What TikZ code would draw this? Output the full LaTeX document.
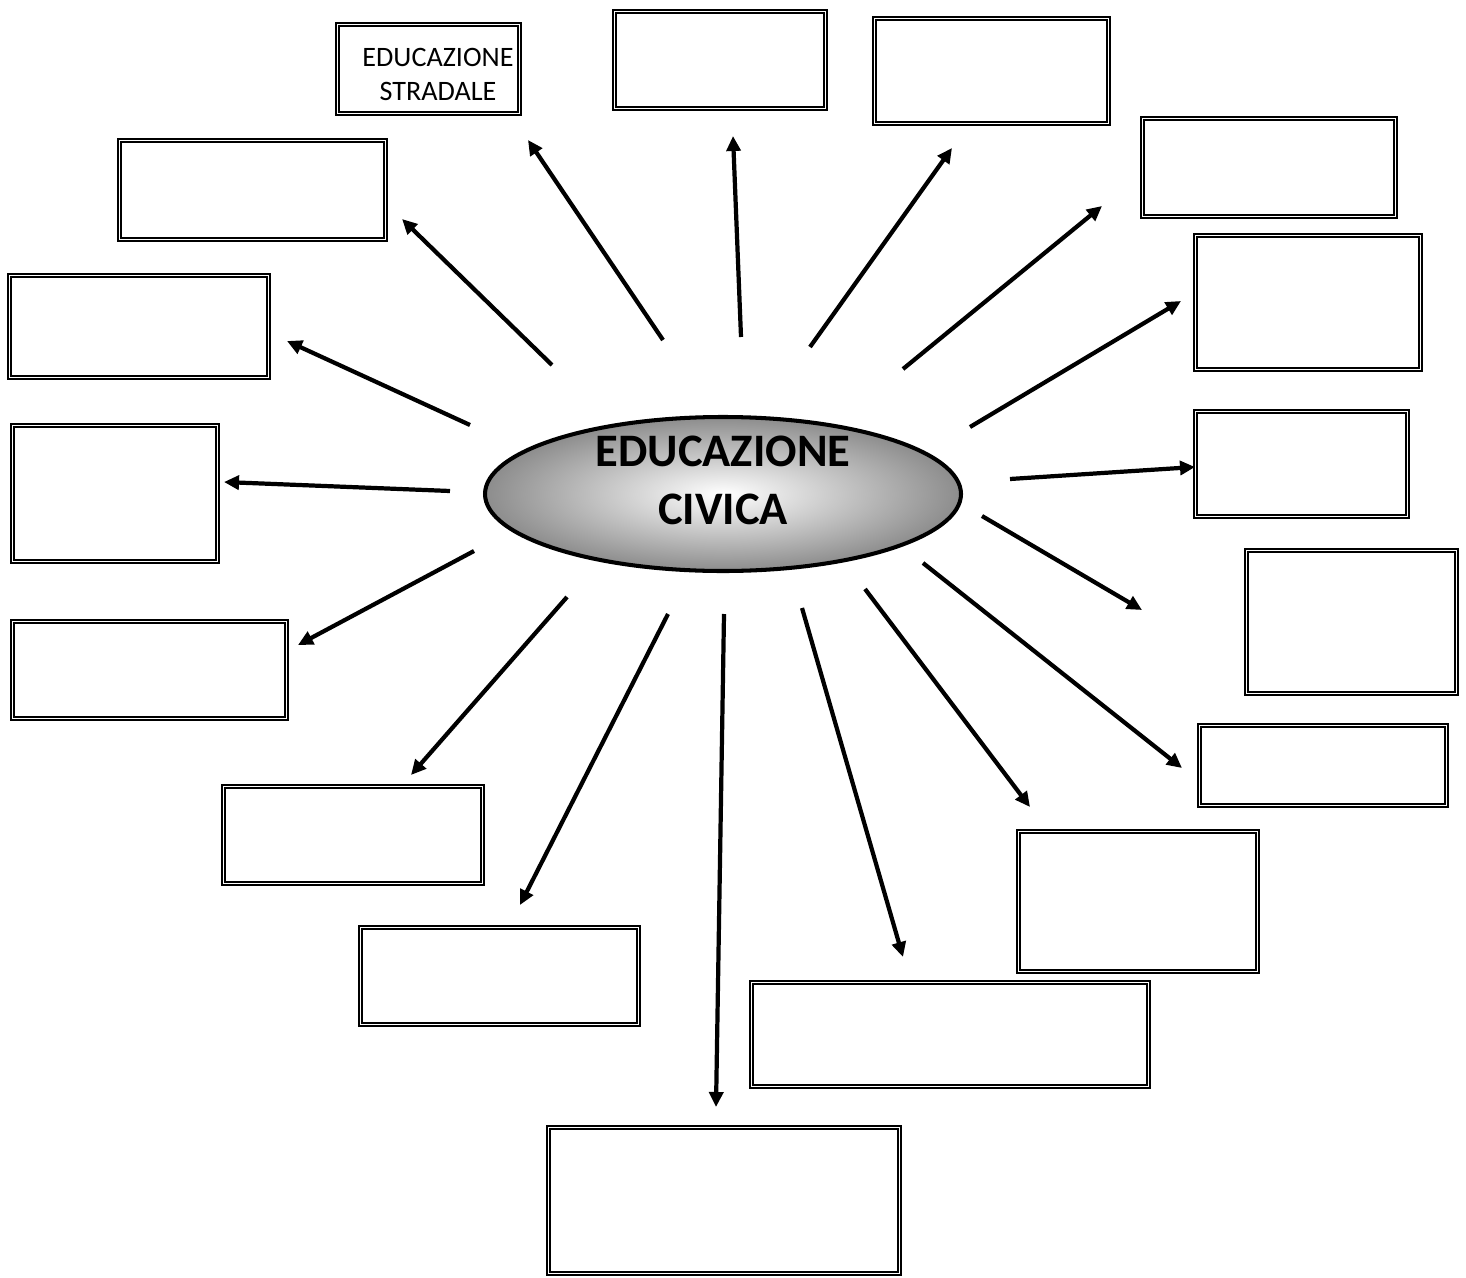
\documentclass[tikz,border=0pt]{standalone}
\usepackage{fontspec}
\setmainfont{Carlito}
\usetikzlibrary{shapes.geometric,arrows.meta}
\begin{document}
\begin{tikzpicture}[x=0.02cm,y=-0.02cm]
    \tikzset{
        box/.style 2 args={draw,double,line width=0.9pt,double distance=1.1pt,inner sep=0pt,
            minimum width={(#1-5)*0.02cm},minimum height={(#2-5)*0.02cm}},
        civica/.style={ellipse,draw,line width=2.3pt,shading=radial,inner color=white,outer color=black!45,
            minimum width=476*0.02cm,minimum height=154*0.02cm,inner xsep=0pt,inner ysep=-0.4cm,align=center,
            text depth=0.56cm,font=\fontsize{26.5}{33}\selectfont\bfseries},
        arr/.style={line width=2.4pt,-{Triangle[length=0.3cm,width=0.28cm]}},}
    \useasboundingbox (0,0) rectangle (1466,1277);
    \node[civica] (ec) at (723,494) {EDUCAZIONE\\CIVICA};
    \node[box={187}{94},align=center,text height=1.27cm,text depth=0cm,font=\fontsize{16}{19.5}\selectfont] (b1) at (428.5,69)
        {\hspace*{0.38cm}EDUCAZIONE\\\hspace*{0.38cm}STRADALE};
    \foreach \n/\x/\y/\w/\h in {2/720/60/216/102, 3/991.5/71/239/110, 4/1269/167.5/258/103,
        5/1308/302.5/230/139, 6/1301.5/464/217/110, 7/1351.5/622/215/148, 8/1323/765.5/252/85,
        9/1138/901.5/244/145, 10/950/1034.5/402/109, 11/724/1200.5/356/151, 12/499.5/976/283/102,
        13/353/835/264/102, 14/149.5/670/279/102, 15/115/493.5/210/141, 16/139/326.5/264/107,
        17/252.5/190/271/104}
        \node[box={\w}{\h}] (b\n) at (\x,\y) {};
    \foreach \i/\tx/\ty/\hx/\hy in {1/663/340/528/140, 2/741/337/733/136, 3/810/347/952/148,
        4/903/369/1102/206, 5/970/427/1181/301, 6/1010/479/1195/467, 7/982/516/1142/610,
        8/923/563/1182/768, 9/865/589/1030/807, 10/802/608/903/957, 11/724/614/716/1107,
        12/668/614/520/905, 13/567/597/411/775, 14/474/551/298/645, 15/450/491/224/482,
        16/470/425/287/341, 17/552/365/402/219}
    {
        \coordinate (t\i) at (\tx,\ty);
        \coordinate (h\i) at (\hx,\hy);
        \draw[arr] (t\i) -- (h\i);
    }
\end{tikzpicture}
\end{document}
